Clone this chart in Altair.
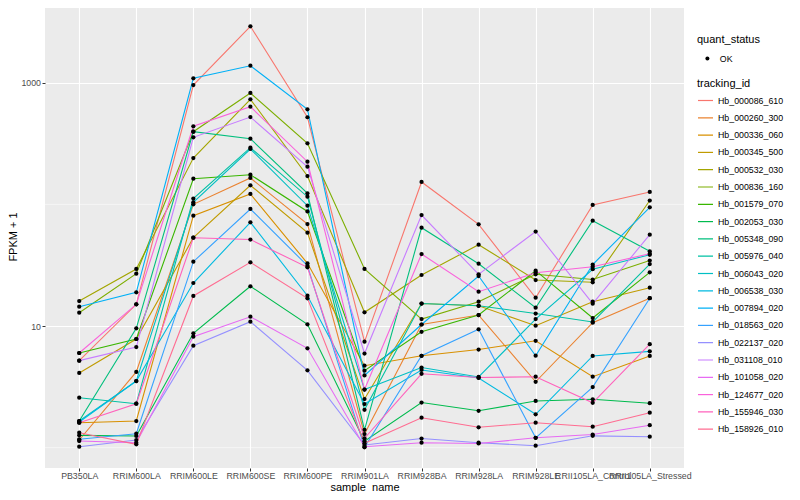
import altair as alt
import pandas as pd

samples = ["PB350LA", "RRIM600LA", "RRIM600LE", "RRIM600SE", "RRIM600PE",
           "RRIM901LA", "RRIM928BA", "RRIM928LA", "RRIM928LE",
           "RRII105LA_Control", "RRII105LA_Stressed"]

tracking_ids = ["Hb_000086_610", "Hb_000260_300", "Hb_000336_060", "Hb_000345_500",
                "Hb_000532_030", "Hb_000836_160", "Hb_001579_070", "Hb_002053_030",
                "Hb_005348_090", "Hb_005976_040", "Hb_006043_020", "Hb_006538_030",
                "Hb_007894_020", "Hb_018563_020", "Hb_022137_020", "Hb_031108_010",
                "Hb_101058_020", "Hb_124677_020", "Hb_155946_030", "Hb_158926_010"]

palette = ["#F8766D", "#EA8331", "#D89000", "#C09B00", "#A3A500", "#7CAE00",
           "#39B600", "#00BB4E", "#00BF7D", "#00C1A3", "#00BFC4", "#00BAE0",
           "#00B0F6", "#35A2FF", "#9590FF", "#C77CFF", "#E76BF3", "#FA62DB",
           "#FF62BC", "#FF6C91"]

# FPKM + 1 per sample (same order as samples)
hb_000086_610 = [5.19, 15.08, 957, 2908, 520, 7.43, 152.7, 68.5, 17.08, 98.8, 126.4]
hb_000260_300 = [1.156, 4.19, 100.1, 164.7, 68.9, 1.295, 10.29, 12.31, 3.48, 10.64, 16.92]
hb_000336_060 = [1.604, 1.656, 80.7, 121.7, 32.76, 4.72, 5.69, 6.41, 7.56, 3.83, 5.67]
hb_000345_500 = [4.11, 7.82, 53.2, 143.4, 58.5, 2.51, 15.31, 14.66, 10.06, 15.84, 20.64]
hb_000532_030 = [16.05, 29.42, 240.4, 730.4, 171, 12.96, 26.26, 46.6, 23.88, 22.87, 107.5]
hb_000836_160 = [12.86, 26.91, 395.6, 823, 317.6, 29.42, 11.41, 15.84, 26.6, 24.11, 34.55]
hb_001579_070 = [6.0, 7.82, 162.5, 175.3, 87.4, 4.29, 8.96, 12.31, 28.49, 11.63, 27.63]
hb_002053_030 = [1.263, 1.247, 8.71, 21.2, 10.33, 1.128, 2.35, 2.01, 2.42, 2.50, 2.32]
hb_005348_090 = [1.656, 9.57, 395.6, 346.4, 123.3, 1.402, 64.3, 32.5, 14.14, 73.4, 41.13]
hb_005976_040 = [2.574, 2.297, 111.7, 292.3, 115.6, 2.047, 15.31, 14.66, 12.67, 10.79, 32.33]
hb_006043_020 = [1.656, 3.53, 103.9, 285.1, 97.5, 3.006, 4.56, 3.81, 11.41, 29.3, 38.48]
hb_006538_030 = [1.625, 3.53, 22.57, 71.2, 17.75, 2.284, 4.35, 3.74, 1.88, 5.67, 6.19]
hb_007894_020 = [14.41, 18.92, 1087, 1379, 604.4, 3.92, 10.29, 25.76, 5.70, 32.02, 94.6]
hb_018563_020 = [1.171, 1.302, 33.78, 91.6, 31.3, 1.007, 5.69, 9.40, 1.205, 3.15, 16.92]
hb_022137_020 = [1.018, 1.156, 6.89, 10.85, 4.32, 1.051, 1.189, 1.098, 1.038, 1.251, 1.230]
hb_031108_010 = [5.19, 6.72, 355.8, 522.4, 203.9, 5.94, 81.7, 26.6, 59.8, 15.25, 56.3]
hb_101058_020 = [1.134, 1.098, 8.17, 11.92, 6.56, 1.018, 1.098, 1.082, 1.205, 1.283, 1.529]
hb_124677_020 = [6.0, 15.08, 438.1, 634.9, 224.2, 3.006, 39.07, 19.14, 27.43, 30.72, 39.29]
hb_155946_030 = [1.604, 2.297, 53.2, 51.4, 30.37, 1.194, 4.05, 3.77, 3.83, 2.337, 7.09]
hb_158926_010 = [1.327, 1.065, 17.65, 33.39, 16.89, 1.086, 1.763, 1.47, 1.604, 1.486, 1.938]

series = [hb_000086_610, hb_000260_300, hb_000336_060, hb_000345_500, hb_000532_030,
          hb_000836_160, hb_001579_070, hb_002053_030, hb_005348_090, hb_005976_040,
          hb_006043_020, hb_006538_030, hb_007894_020, hb_018563_020, hb_022137_020,
          hb_031108_010, hb_101058_020, hb_124677_020, hb_155946_030, hb_158926_010]

major_breaks = [10, 1000]
minor_breaks = [1, 100]

rows = []
for tid, vals in zip(tracking_ids, series):
    for s, v in zip(samples, vals):
        rows.append({"tracking_id": tid, "sample_name": s, "fpkm": v, "quant_status": "OK"})
df = pd.DataFrame(rows)

FONT = "Liberation Sans"

x_enc = alt.X(
    "sample_name:N", sort=samples,
    scale=alt.Scale(type="point", padding=0.6),
    axis=alt.Axis(title="sample_name", labelAngle=0, grid=True, gridColor="white",
                  gridWidth=1.1, domain=False, tickColor="#333333", tickSize=3,
                  tickWidth=1, labelColor="#4D4D4D", labelFontSize=8.8, labelPadding=0.5,
                  titleFontSize=11, titleFontWeight="normal", titleColor="black",
                  titleBaseline="middle", titleY=19,
                  labelOverlap=False, labelBound=False),
)
y_scale = alt.Scale(type="log", domain=[0.6805, 4352], nice=False)
y_axis = alt.Axis(title="FPKM + 1", values=major_breaks, format="d", grid=True,
                  gridColor="white", gridWidth=1.1, domain=False, tickColor="#333333",
                  tickSize=3, tickWidth=1, labelColor="#4D4D4D", labelFontSize=8.8,
                  labelPadding=1.5, titleFontSize=11,
                  titleFontWeight="normal", titleColor="black",
                  titleBaseline="middle", titleX=-32)
y_enc = alt.Y("fpkm:Q", scale=y_scale, axis=y_axis)

minor = alt.Chart(pd.DataFrame({"fpkm": minor_breaks})).mark_rule(
    color="white", strokeWidth=0.55
).encode(y=y_enc)

lines = alt.Chart(df).mark_line(strokeWidth=1.1).encode(
    x=x_enc, y=y_enc,
    color=alt.Color("tracking_id:N",
                    scale=alt.Scale(domain=tracking_ids, range=palette),
                    legend=alt.Legend(title="tracking_id", orient="none", legendX=652,
                                      legendY=73, symbolType="stroke", symbolSize=225,
                                      symbolStrokeWidth=1.2, clipHeight=15,
                                      rowPadding=2.3, labelFontSize=8.8, labelColor="black",
                                      titleFontSize=11, titleFontWeight="normal",
                                      titleColor="black", titlePadding=4, labelOffset=4)),
)

points = alt.Chart(df).mark_point(filled=True, size=18, color="black", opacity=1).encode(
    x=x_enc, y=y_enc,
    shape=alt.Shape("quant_status:N", scale=alt.Scale(range=["circle"]),
                    legend=alt.Legend(title="quant_status", orient="none", legendX=652,
                                      legendY=29, symbolSize=16, symbolOffset=6,
                                      clipHeight=15, labelOffset=8, labelFontSize=8.8,
                                      labelColor="black", titleFontSize=11,
                                      titleFontWeight="normal", titleColor="black",
                                      titlePadding=6)),
)

chart = alt.layer(minor, lines, points).properties(
    width=639, height=463,
    padding={"left": 37, "top": -3, "right": 108, "bottom": 24},
    autosize=alt.AutoSizeParams(type="none"),
    background="white",
).configure(font=FONT).configure_view(fill="#EBEBEB", strokeWidth=0)

chart.save("out.html", embed_options={"renderer": "svg", "actions": False})
